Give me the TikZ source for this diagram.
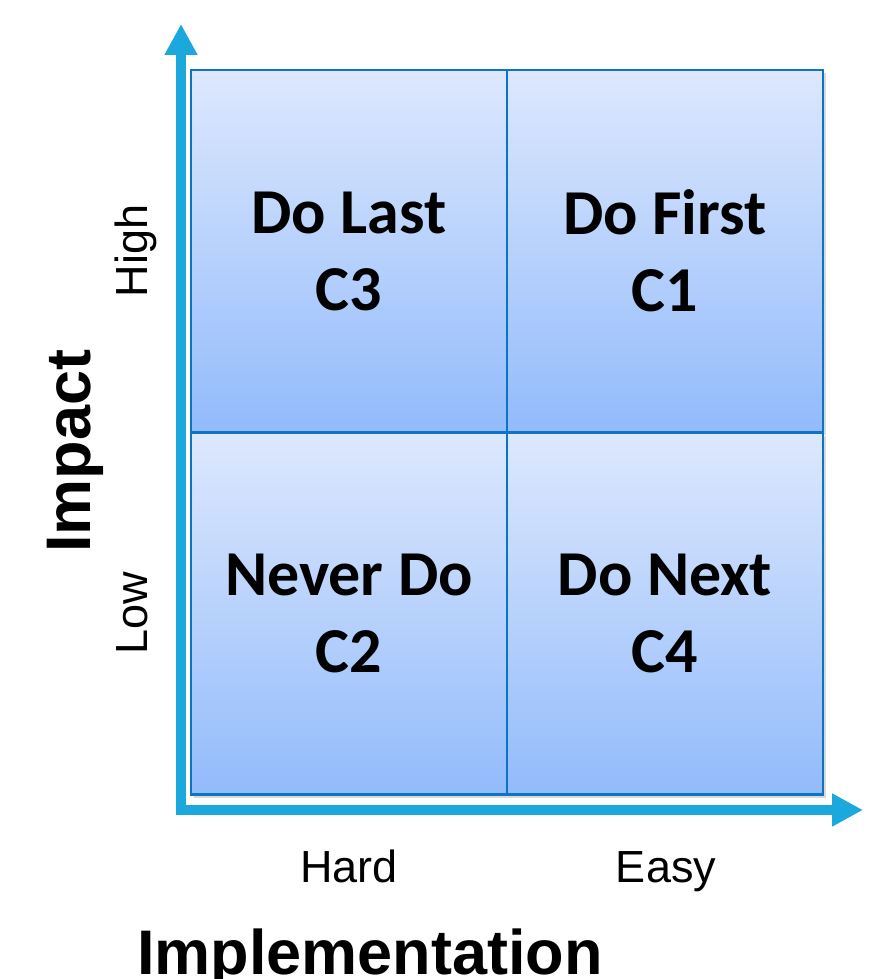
\documentclass[tikz,border=0pt]{standalone}
\usepackage{fontspec}
\setmainfont{Liberation Sans}
\newfontfamily\calfont{Carlito}
\usetikzlibrary{arrows.meta,shadows}
\definecolor{axisblue}{HTML}{1AA8DD}
\definecolor{quadedge}{HTML}{0B74C4}
\definecolor{quadtop}{HTML}{DDE8FD}
\definecolor{quadbot}{HTML}{92BBFB}
\tikzset{
  quad/.style={draw=quadedge, line width=2.5pt, top color=quadtop, bottom color=quadbot,
    minimum width=316pt, minimum height=362pt, inner sep=0pt, align=center,
    font=\calfont\bfseries\fontsize{64}{77}\selectfont,
    drop shadow={opacity=0.3, shadow xshift=3pt, shadow yshift=-3pt}},
  axis/.style={draw=axisblue, line width=10pt,
    -{Triangle[length=31pt, width=31pt]}},
  axlabel/.style={font=\fontsize{45}{54}\selectfont, inner sep=0pt},
  axtitle/.style={font=\bfseries\fontsize{63}{75}\selectfont, inner sep=0pt}
}
\begin{document}
\begin{tikzpicture}[x=1pt, y=-1pt]
\useasboundingbox (0,0) rectangle (891,979);
% axes
\coordinate (vstart) at (181,815);
\coordinate (vend) at (181,24);
\coordinate (hstart) at (176,810);
\coordinate (hend) at (863,810);
\draw[axis] (vstart) -- (vend);
\draw[axis] (hstart) -- (hend);
% quadrants
\node[quad] (q3) at (349,251) {Do Last\\C3};
\node[quad] (q1) at (665,251) {Do First\\C1};
\node[quad] (q2) at (349,613.5) {Never Do\\C2};
\node[quad] (q4) at (665,613.5) {Do Next\\C4};
% axis labels
\node[axlabel, rotate=90, anchor=base] (high) at (147,251) {High};
\node[axlabel, rotate=90, anchor=base] (low) at (147,613) {Low};
\node[axtitle, rotate=90, anchor=base] (impact) at (90,451) {Impact};
\node[axlabel, anchor=base] (hard) at (349,882) {Hard};
\node[axlabel, anchor=base] (easy) at (666,882) {Easy};
\node[axtitle, anchor=base] (impl) at (370,974) {Implementation};
\end{tikzpicture}
\end{document}
